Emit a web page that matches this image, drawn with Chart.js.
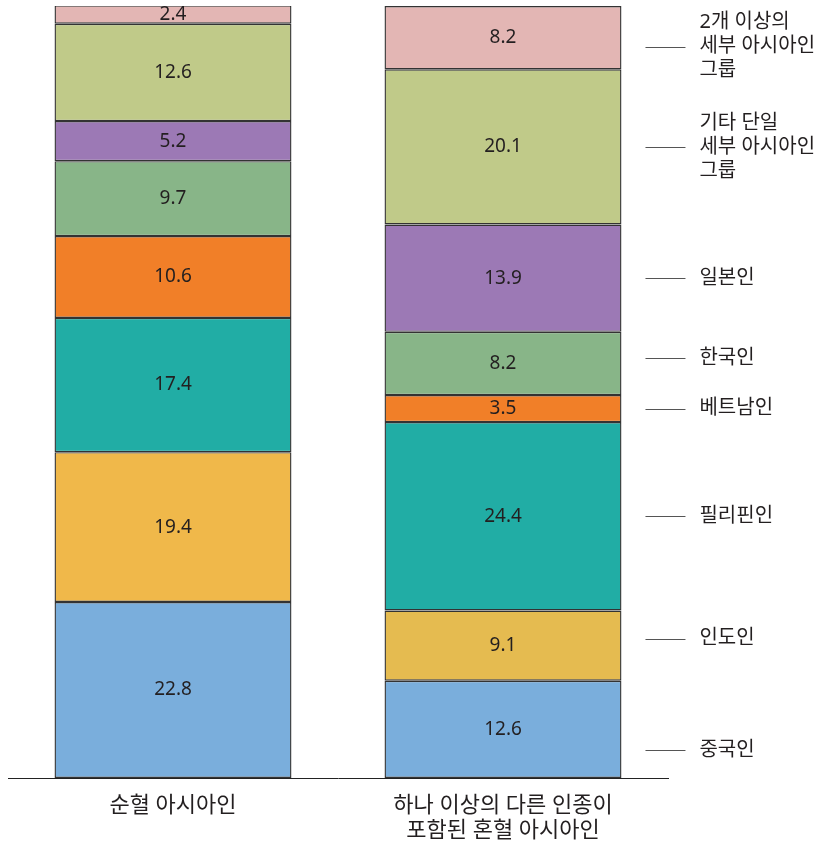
<!DOCTYPE html>
<html lang="ko">
<head>
<meta charset="utf-8">
<script src="https://cdn.jsdelivr.net/npm/chart.js@4.4.1/dist/chart.umd.min.js"></script>
<style>
    html, body { margin: 0; padding: 0; background: #fff; }
    #wrap { width: 826px; height: 844px; position: relative; }
</style>
</head>
<body>
<div id="wrap"><canvas id="chart"></canvas></div>
<script>
// 막대 (x축) 라벨
const categories = [['순혈 아시아인'], ['하나 이상의 다른 인종이', '포함된 혼혈 아시아인']];

// 아래에서 위로 쌓이는 순서
const groupNames = ['중국인', '인도인', '필리핀인', '베트남인', '한국인', '일본인', '기타 단일 세부 아시아인 그룹', '2개 이상의 세부 아시아인 그룹'];
const groupLabelLines = [['중국인'], ['인도인'], ['필리핀인'], ['베트남인'], ['한국인'], ['일본인'], ['기타 단일', '세부 아시아인', '그룹'], ['2개 이상의', '세부 아시아인', '그룹']];

const chinese = [22.8, 12.6];
const indian = [19.4, 9.1];
const filipino = [17.4, 24.4];
const vietnamese = [10.6, 3.5];
const korean = [9.7, 8.2];
const japanese = [5.2, 13.9];
const otherSingle = [12.6, 20.1];
const multiple = [2.4, 8.2];

const seriesValues = [chinese, indian, filipino, vietnamese, korean, japanese, otherSingle, multiple];
const colors = ['#7aaedc', ['#f0b84a', '#e5bb50'], '#21ada5', '#f17f28', '#88b588', '#9c79b5', '#c0ca89', '#e3b6b4'];

const FONT = '"Noto Sans", "Noto Sans CJK KR", sans-serif';

// 막대 안의 값 표시
const valueLabels = {
    id: 'valueLabels',
    afterDatasetsDraw(chart) {
        const ctx = chart.ctx;
        ctx.save();
        ctx.font = '19px ' + FONT;
        ctx.fillStyle = '#231f20';
        ctx.textAlign = 'center';
        ctx.textBaseline = 'middle';
        chart.data.datasets.forEach((ds, i) => {
            chart.getDatasetMeta(i).data.forEach((el, j) => {
                const y = (el.y + el.base) / 2;
                ctx.fillText(ds.data[j].toFixed(1), el.x, y);
            });
        });
        ctx.restore();
    }
};

// 오른쪽 그룹 이름 + 선
const sideLabels = {
    id: 'sideLabels',
    afterDatasetsDraw(chart, args, opts) {
        const ctx = chart.ctx;
        ctx.save();
        ctx.font = '20px ' + FONT;
        ctx.textBaseline = 'middle';
        chart.data.datasets.forEach((ds, i) => {
            const el = chart.getDatasetMeta(i).data[1];
            const y = (el.y + el.base) / 2 + (opts.nudge[i] || 0);
            const x0 = el.x + el.width / 2 + 24;
            ctx.strokeStyle = '#555';
            ctx.lineWidth = 1;
            ctx.beginPath();
            ctx.moveTo(x0, Math.round(y) + 0.5);
            ctx.lineTo(x0 + 40, Math.round(y) + 0.5);
            ctx.stroke();
            const lines = groupLabelLines[i];
            const lh = 24;
            ctx.fillStyle = '#231f20';
            lines.forEach((t, k) => {
                ctx.fillText(t, x0 + 54, y + (k - (lines.length - 1) / 2) * lh);
            });
        });
        ctx.restore();
    }
};

new Chart(document.getElementById('chart'), {
    type: 'bar',
    data: {
        labels: categories,
        datasets: seriesValues.map((vals, i) => ({
            label: groupNames[i],
            data: vals,
            backgroundColor: colors[i],
            borderColor: '#333',
            borderWidth: 1.4,
            borderSkipped: false,
            barPercentage: 0.718,
            categoryPercentage: 1
        }))
    },
    options: {
        responsive: true,
        maintainAspectRatio: false,
        animation: false,
        layout: { padding: { left: 8, right: 158, top: 6, bottom: 0 } },
        plugins: {
            legend: { display: false },
            tooltip: { enabled: false },
            sideLabels: { nudge: { 0: 21, 1: -7, 4: -5, 7: 9 } }
        },
        scales: {
            x: {
                stacked: true,
                grid: { display: false },
                border: { display: true, color: '#222', width: 1 },
                afterFit: (scale) => { scale.height = 66; },
                ticks: {
                    color: '#231f20',
                    font: { family: FONT, size: 22, lineHeight: 1.15 },
                    padding: 7
                }
            },
            y: {
                stacked: true,
                display: false,
                min: 0,
                max: 100
            }
        }
    },
    plugins: [valueLabels, sideLabels]
});
</script>
</body>
</html>
